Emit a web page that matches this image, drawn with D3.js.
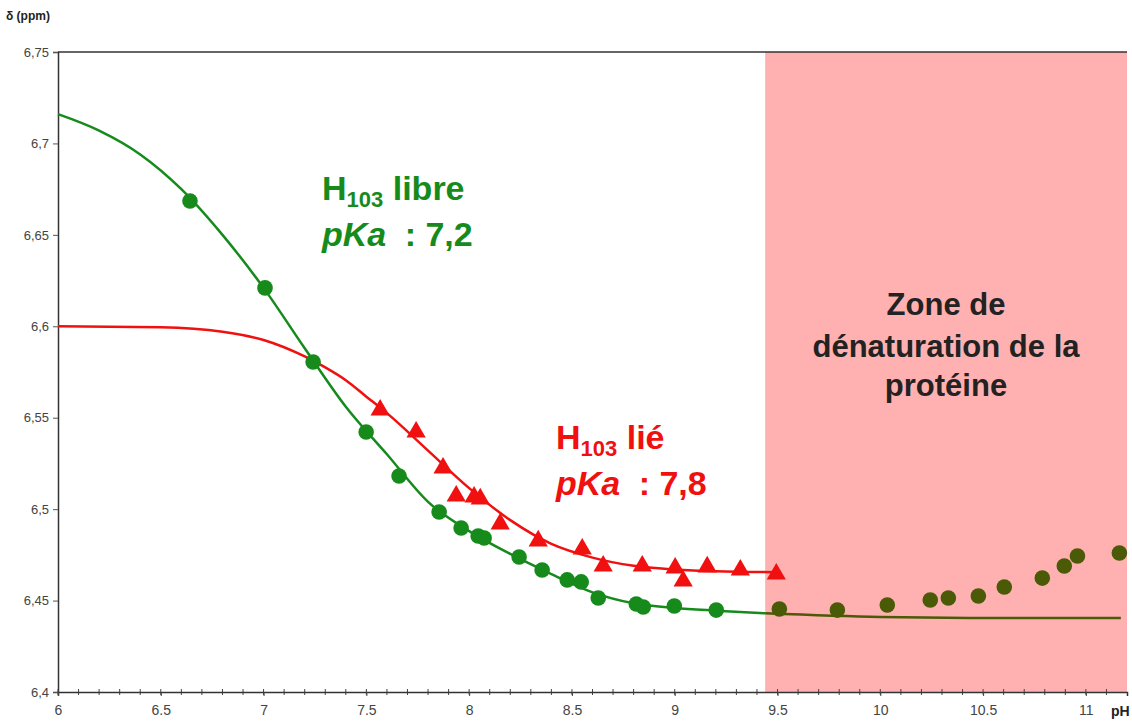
<!DOCTYPE html>
<html><head><meta charset="utf-8">
<script src="https://cdn.jsdelivr.net/npm/d3@7"></script>
<style>body{margin:0;background:#fff;} svg{display:block;font-family:Arial,"Liberation Sans",sans-serif;}</style>
</head><body>
<svg id="c" width="1132" height="721"></svg>
<script>
// Data
const libreX = [6.642,7.007,7.241,7.499,7.659,7.854,7.961,8.044,8.073,8.243,8.355,8.477,8.545,8.628,8.813,8.847,8.998,9.202];
const libreY = [6.6685,6.621,6.5805,6.5422,6.5181,6.4984,6.4897,6.4853,6.4842,6.4738,6.4667,6.4613,6.4602,6.4514,6.4481,6.4465,6.447,6.4448];
const denatX = [9.509,9.791,10.034,10.243,10.331,10.477,10.603,10.788,10.895,10.959,11.163];
const denatY = [6.4454,6.4448,6.4476,6.4503,6.4514,6.4525,6.4574,6.4623,6.4689,6.4744,6.476];
const lieX = [7.567,7.742,7.873,7.937,8.024,8.054,8.151,8.336,8.55,8.652,8.842,9.002,9.041,9.158,9.319,9.494];
const lieY = [6.5542,6.5422,6.5225,6.5072,6.5066,6.5056,6.4919,6.4826,6.4782,6.4689,6.4689,6.4678,6.4607,6.4684,6.4667,6.4645];
const fitLibreX = [6.0,6.2,6.4,6.6,6.8,7.0,7.2,7.4,7.6,7.8,8.0,8.2,8.4,8.6,8.8,9.0,9.2,9.44];
const fitLibreY = [6.716,6.707,6.694,6.675,6.650,6.621,6.588,6.556,6.530,6.504,6.488,6.4755,6.4645,6.4545,6.4485,6.446,6.4445,6.443];
const fitDenatX = [9.44,10.0,10.5,11.17];
const fitDenatY = [6.443,6.441,6.4405,6.4405];
const fitLieX = [6.0,6.5,6.8,7.0,7.2,7.3,7.4,7.5,7.6,7.8,8.0,8.2,8.4,8.6,8.8,9.0,9.2,9.5];
const fitLieY = [6.600,6.5995,6.597,6.5925,6.5835,6.5775,6.5705,6.5615,6.5525,6.532,6.5115,6.494,6.481,6.4735,6.469,6.467,6.466,6.4655];
const zoneStart = 9.44;
const yTicks = [6.4,6.45,6.5,6.55,6.6,6.65,6.7,6.75];
const yTickLabels = ["6,4","6,45","6,5","6,55","6,6","6,65","6,7","6,75"];
const xTicks = [6,6.5,7,7.5,8,8.5,9,9.5,10,10.5,11];
const xTickLabels = ["6","6.5","7","7.5","8","8.5","9","9.5","10","10.5","11"];

const svg = d3.select("#c");
const x = d3.scaleLinear().domain([6, 11.2]).range([58, 1127]);
const y = d3.scaleLinear().domain([6.4, 6.75]).range([692, 52]);

const GREEN = "#168b1c", RED = "#f01010", OLIVE = "#4a5a06", PINK = "#ffb0b0";

// denaturation zone
svg.append("rect").attr("x", x(zoneStart)).attr("y", y(6.75))
  .attr("width", x(11.2) - x(zoneStart)).attr("height", y(6.4) - y(6.75)).attr("fill", PINK);

// frame top
svg.append("line").attr("x1", x(6)).attr("x2", x(11.2)).attr("y1", y(6.75)).attr("y2", y(6.75))
  .attr("stroke", "#333").attr("stroke-width", 1.5);

// y axis
const yAxis = d3.axisLeft(y).tickValues(yTicks).tickFormat((d,i)=>yTickLabels[i]).tickSize(5).tickPadding(4);
const gy = svg.append("g").attr("transform", `translate(${x(6)},0)`).call(yAxis);
gy.select(".domain").attr("stroke", "#333").attr("stroke-width", 1.5);
gy.selectAll(".tick line").attr("stroke", "#555");
gy.selectAll("text").attr("font-size", 13).attr("fill", "#444").attr("font-family", "Arial, 'Liberation Sans', sans-serif");

// x axis minor ticks
const minor = d3.range(60, 112).map(d => d / 10);
svg.append("g").selectAll("line").data(minor).join("line")
  .attr("x1", d => x(d)).attr("x2", d => x(d)).attr("y1", y(6.4) - 3).attr("y2", y(6.4) + 3)
  .attr("stroke", "#444").attr("stroke-width", 1);
const xAxis = d3.axisBottom(x).tickValues(xTicks).tickFormat((d,i)=>xTickLabels[i]).tickSize(4).tickPadding(9);
const gx = svg.append("g").attr("transform", `translate(0,${y(6.4)})`).call(xAxis);
gx.select(".domain").attr("stroke", "#333").attr("stroke-width", 1.5);
gx.selectAll(".tick line").attr("stroke", "#444");
gx.selectAll("text").attr("font-size", 14).attr("fill", "#444").attr("font-family", "Arial, 'Liberation Sans', sans-serif");

svg.append("text").attr("x", 1111).attr("y", 716).attr("font-size", 14).attr("font-weight", "bold").attr("fill", "#222").text("pH");
svg.append("text").attr("x", 6).attr("y", 20).attr("font-size", 12).attr("font-weight", "bold").attr("fill", "#222").text("δ (ppm)");

// curves
const line = d3.line().x(d => x(d[0])).y(d => y(d[1])).curve(d3.curveMonotoneX);
svg.append("path").datum(d3.zip(fitLieX, fitLieY)).attr("d", line).attr("fill", "none").attr("stroke", RED).attr("stroke-width", 2.5);
svg.append("path").datum(d3.zip(fitLibreX, fitLibreY)).attr("d", line).attr("fill", "none").attr("stroke", GREEN).attr("stroke-width", 2.5);
svg.append("path").datum(d3.zip(fitDenatX, fitDenatY)).attr("d", line).attr("fill", "none").attr("stroke", OLIVE).attr("stroke-width", 2.5);

// markers
const tri = d3.symbol().type(d3.symbolTriangle).size(160);
svg.append("g").selectAll("path").data(d3.zip(lieX, lieY)).join("path")
  .attr("d", tri).attr("transform", d => `translate(${x(d[0])},${y(d[1])})`).attr("fill", RED);
svg.append("g").selectAll("circle").data(d3.zip(libreX, libreY)).join("circle")
  .attr("cx", d => x(d[0])).attr("cy", d => y(d[1])).attr("r", 7.8).attr("fill", GREEN);
svg.append("g").selectAll("circle").data(d3.zip(denatX, denatY)).join("circle")
  .attr("cx", d => x(d[0])).attr("cy", d => y(d[1])).attr("r", 7.8).attr("fill", OLIVE);

// labels
function label(px, py, color, name, pka) {
  const t1 = svg.append("text").attr("x", px).attr("y", py).attr("fill", color).attr("font-size", 34).attr("font-weight", "bold");
  t1.append("tspan").text("H");
  t1.append("tspan").attr("font-size", 22).attr("dy", 7).text("103");
  t1.append("tspan").attr("dy", -7).text(" " + name);
  const t2 = svg.append("text").attr("x", px).attr("y", py + 46).attr("fill", color).attr("font-size", 34).attr("font-weight", "bold");
  t2.append("tspan").attr("font-style", "italic").text("pKa");
  t2.append("tspan").attr("dx", 9).text(" : " + pka);
}
label(322, 200, GREEN, "libre", "7,2");
label(556, 449, RED, "lié", "7,8");

const zone = svg.append("text").attr("text-anchor", "middle").attr("fill", "#222").attr("font-size", 31).attr("font-weight", "bold");
[["Zone de", 315], ["dénaturation de la", 357], ["protéine", 396]].forEach(([t, py]) => {
  zone.append("tspan").attr("x", 946).attr("y", py).text(t);
});
</script>
</body></html>
